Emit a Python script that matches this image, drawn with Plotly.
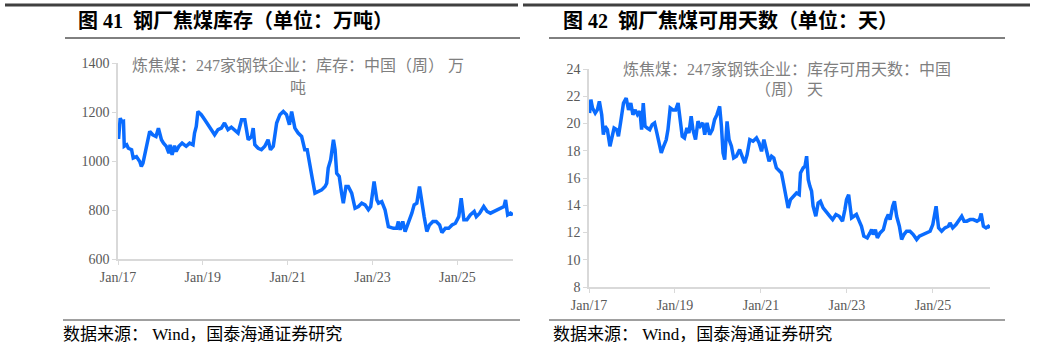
import plotly.graph_objects as go

# ---------------- Data: left chart (库存, 万吨) ----------------
inv_dates = [
    "2017-01-06","2017-01-20","2017-02-03","2017-02-17","2017-02-24","2017-03-17","2017-03-31","2017-04-28",
    "2017-05-12","2017-06-09","2017-07-07","2017-07-21","2017-08-04","2017-08-18","2017-09-08","2017-10-01",
    "2017-10-27","2017-11-24","2017-12-15","2018-01-10","2018-01-28","2018-02-21","2018-03-15","2018-03-25",
    "2018-04-12","2018-05-02","2018-05-16","2018-06-09","2018-07-07","2018-08-11","2018-09-10","2018-10-09",
    "2018-10-22","2018-11-06","2018-11-20","2018-12-19","2019-01-18","2019-02-16","2019-03-16","2019-04-13",
    "2019-05-12","2019-06-10","2019-07-07","2019-08-06","2019-09-04","2019-10-03","2019-11-01","2019-12-01",
    "2019-12-29","2020-01-27","2020-02-25","2020-03-10","2020-03-24","2020-04-22","2020-05-20","2020-06-18",
    "2020-07-16","2020-08-06","2020-08-30","2020-09-28","2020-10-26","2020-11-24","2020-12-22","2021-01-16",
    "2021-02-04","2021-03-04","2021-04-01","2021-05-01","2021-05-28","2021-06-18","2021-07-10","2021-08-03",
    "2021-08-24","2021-09-22","2021-10-21","2021-11-19","2021-12-03","2021-12-16","2022-01-06","2022-01-30",
    "2022-02-13","2022-02-27","2022-03-21","2022-04-10","2022-04-25","2022-05-18","2022-06-07","2022-07-06",
    "2022-08-04","2022-09-02","2022-10-01","2022-10-29","2022-11-27","2022-12-17","2023-01-15","2023-02-08",
    "2023-02-22","2023-03-22","2023-04-19","2023-05-18","2023-07-01","2023-07-28","2023-08-12","2023-08-27",
    "2023-09-19","2023-10-09","2023-11-07","2023-12-06","2023-12-26","2024-01-18","2024-02-10","2024-03-01",
    "2024-03-21","2024-04-13","2024-05-06","2024-06-04","2024-07-03","2024-08-01","2024-08-21","2024-09-19",
    "2024-10-18","2024-11-16","2024-12-15","2025-01-13","2025-02-03","2025-02-26","2025-03-24","2025-04-22",
    "2025-05-26","2025-06-13","2025-07-12","2025-08-16","2025-09-14","2025-10-13","2025-11-11","2025-12-10",
    "2026-01-08","2026-02-06","2026-02-20","2026-03-10","2026-04-03","2026-04-25",
]
inv_values = [
    1090,1175,1160,1162,1060,1066,1052,1046,
    1012,1018,998,978,991,1025,1060,1121,
    1107,1100,1134,1087,1073,1060,1032,1066,
    1025,1062,1039,1060,1073,1060,1073,1066,
    1114,1141,1202,1189,1168,1148,1128,1107,
    1128,1134,1155,1128,1138,1128,1114,1168,
    1168,1087,1100,1134,1066,1052,1046,1060,
    1087,1046,1060,1155,1189,1202,1189,1148,
    1202,1134,1114,1100,1046,1046,978,923,
    869,875,882,896,909,971,1005,1087,
    1046,950,937,869,828,896,896,869,
    807,814,828,821,801,814,916,841,
    828,834,801,732,725,725,753,719,
    753,712,746,787,821,828,896,828,
    773,712,739,753,753,739,708,725,
    725,739,746,773,848,760,760,780,
    794,773,787,814,794,787,794,801,
    807,814,841,780,787,780,
]

# ---------------- Data: right chart (可用天数, 天) ----------------
days_dates = [
    "2017-01-06","2017-01-17","2017-01-31","2017-02-23","2017-03-13","2017-03-30","2017-04-19","2017-05-03",
    "2017-05-17","2017-06-06","2017-06-28","2017-07-12","2017-08-02","2017-08-24","2017-09-08","2017-09-28",
    "2017-10-21","2017-11-13","2017-12-03","2017-12-22","2018-01-09","2018-01-29","2018-02-17","2018-03-10",
    "2018-03-24","2018-04-07","2018-04-22","2018-05-11","2018-06-01","2018-06-22","2018-07-12","2018-08-01",
    "2018-08-24","2018-09-07","2018-09-27","2018-10-19","2018-11-03","2018-11-22","2018-12-15","2019-01-07",
    "2019-01-28","2019-02-11","2019-03-04","2019-03-23","2019-04-13","2019-04-30","2019-05-19","2019-06-03",
    "2019-06-25","2019-07-16","2019-08-04","2019-08-27","2019-09-11","2019-10-01","2019-10-23","2019-11-15",
    "2019-12-04","2019-12-24","2020-01-16","2020-01-31","2020-02-14","2020-02-28","2020-03-19","2020-04-05",
    "2020-04-25","2020-05-14","2020-06-06","2020-07-04","2020-07-27","2020-08-16","2020-09-05","2020-09-28",
    "2020-10-26","2020-11-24","2020-12-16","2021-01-06","2021-01-26","2021-02-18","2021-03-11","2021-04-01",
    "2021-04-20","2021-05-12","2021-06-04","2021-06-24","2021-07-08","2021-08-01","2021-08-20","2021-09-09",
    "2021-10-01","2021-10-30","2021-11-22","2021-12-03","2021-12-26","2022-01-10","2022-01-24","2022-02-07",
    "2022-02-21","2022-03-07","2022-03-20","2022-04-12","2022-05-02","2022-05-21","2022-06-13","2022-07-12",
    "2022-08-10","2022-09-02","2022-09-30","2022-10-28","2022-11-25","2022-12-15","2022-12-29","2023-01-16",
    "2023-02-10","2023-03-01","2023-03-23","2023-04-16","2023-05-05","2023-05-25","2023-06-23","2023-07-16",
    "2023-07-30","2023-08-13","2023-08-31","2023-09-17","2023-10-10","2023-11-07","2023-11-29","2023-12-19",
    "2024-01-03","2024-01-25","2024-02-09","2024-02-28","2024-03-22","2024-04-10","2024-04-30","2024-05-22",
    "2024-06-20","2024-07-18","2024-08-16","2024-09-08","2024-10-06","2024-11-04","2024-12-08","2024-12-31",
    "2025-01-28","2025-02-18","2025-03-16","2025-04-13","2025-05-12","2025-05-26","2025-06-18","2025-07-16",
    "2025-08-13","2025-09-03","2025-09-23","2025-10-16","2025-11-13","2025-12-11","2026-01-10","2026-02-01",
    "2026-02-15","2026-03-06","2026-03-28","2026-04-17","2026-05-01",
]
days_values = [
    20.77,21.75,21.14,20.77,21.0,21.63,20.65,19.18,
    19.8,19.55,18.33,18.8,19.67,19.55,19.06,20.16,
    21.5,21.87,21.0,21.5,20.65,21.0,20.65,20.9,
    19.55,21.5,19.8,19.67,19.55,19.92,20.04,19.3,
    18.33,17.84,18.33,18.8,19.55,21.14,21.0,21.0,
    21.5,20.53,19.06,18.94,19.67,19.3,20.53,19.55,
    18.82,20.16,19.8,20.04,19.18,20.04,19.18,19.55,
    20.28,20.65,21.26,19.8,17.84,17.35,20.16,18.82,
    18.33,17.47,17.6,18.08,17.47,17.1,17.7,18.82,
    18.7,18.94,18.57,17.96,18.82,17.84,17.23,17.6,
    17.47,16.74,16.5,16.37,15.76,14.78,13.8,14.42,
    14.66,14.9,14.78,16.37,16.74,16.86,17.6,15.88,
    15.39,15.03,13.93,13.19,14.17,14.29,13.8,13.44,
    13.19,12.95,13.32,13.19,12.83,13.68,14.42,14.78,
    13.07,13.19,13.32,12.83,12.46,11.73,11.6,11.97,
    12.21,11.85,12.21,11.6,11.97,12.21,12.95,13.32,
    12.95,13.93,14.29,13.19,12.46,11.48,11.85,12.09,
    12.09,11.85,11.48,11.73,11.85,11.97,12.09,12.58,
    13.93,12.34,12.09,12.34,12.46,12.7,12.34,12.58,
    12.95,13.19,12.83,12.83,12.95,12.95,12.83,12.95,
    13.39,12.46,12.34,12.46,12.34,
]

left_title = "图 41  钢厂焦煤库存（单位：万吨）"
right_title = "图 42  钢厂焦煤可用天数（单位：天）"
left_series = ["炼焦煤：247家钢铁企业：库存：中国（周） 万", "吨"]
right_series = ["炼焦煤：247家钢铁企业：库存可用天数：中国", "（周） 天"]
source_text = "数据来源： Wind，国泰海通证券研究"

W, H = 1037, 350
LINE_COLOR = "#0a6cff"
FONT = "Liberation Serif, Noto Sans CJK SC, serif"

fig = go.Figure()
fig.add_trace(go.Scatter(x=inv_dates, y=inv_values, mode="lines",
                         line=dict(color=LINE_COLOR, width=3.5), xaxis="x", yaxis="y",
                         showlegend=False, hoverinfo="skip"))
fig.add_trace(go.Scatter(x=days_dates, y=days_values, mode="lines",
                         line=dict(color=LINE_COLOR, width=3.5), xaxis="x2", yaxis="y2",
                         showlegend=False, hoverinfo="skip"))

def px(x):
    return x / W

def py(y):
    return (H - y) / H

axis_common = dict(
    showgrid=False, zeroline=False, showline=True, linecolor="#d9d9d9", linewidth=1.5,
    ticks="outside", ticklen=4, tickcolor="#d9d9d9",
    tickfont=dict(family=FONT, size=14, color="#595959"),
)

fig.update_layout(
    width=W, height=H, margin=dict(l=0, r=0, t=0, b=0, autoexpand=False),
    paper_bgcolor="white", plot_bgcolor="white",
    xaxis=dict(domain=[px(118), px(513)], anchor="y", type="date",
               range=["2017-01-01", inv_dates[-1]], tick0="2017-01-01", dtick="M24",
               tickformat="%b/%y", **axis_common),
    yaxis=dict(domain=[py(259), py(63)], anchor="x", range=[600, 1400], dtick=200,
               **axis_common),
    xaxis2=dict(domain=[px(589), px(990)], anchor="y2", type="date",
                range=["2017-01-01", days_dates[-1]], tick0="2017-01-01", dtick="M24",
                tickformat="%b/%y", **axis_common),
    yaxis2=dict(domain=[py(287), py(69)], anchor="x2", range=[8, 24], dtick=2,
                **axis_common),
)

ann = []
# Figure titles
ann.append(dict(x=px(76), y=py(20), xref="paper", yref="paper", xanchor="left", yanchor="middle",
                text="<b>" + left_title + "</b>", showarrow=False,
                font=dict(family=FONT, size=20, color="#000000")))
ann.append(dict(x=px(561), y=py(20), xref="paper", yref="paper", xanchor="left", yanchor="middle",
                text="<b>" + right_title + "</b>", showarrow=False,
                font=dict(family=FONT, size=20, color="#000000")))
# Series titles inside charts
for txt, (cx, cy) in zip(left_series, [(298, 65), (298, 87)]):
    ann.append(dict(x=px(cx), y=py(cy), xref="paper", yref="paper", xanchor="center", yanchor="middle",
                    text=txt, showarrow=False, font=dict(family=FONT, size=16, color="#7f7f7f")))
for txt, (cx, cy) in zip(right_series, [(787, 69), (789, 90)]):
    ann.append(dict(x=px(cx), y=py(cy), xref="paper", yref="paper", xanchor="center", yanchor="middle",
                    text=txt, showarrow=False, font=dict(family=FONT, size=16, color="#7f7f7f")))
# Sources
ann.append(dict(x=px(61), y=py(334), xref="paper", yref="paper", xanchor="left", yanchor="middle",
                text=source_text, showarrow=False, font=dict(family=FONT, size=17, color="#000000")))
ann.append(dict(x=px(551), y=py(334), xref="paper", yref="paper", xanchor="left", yanchor="middle",
                text=source_text, showarrow=False, font=dict(family=FONT, size=17, color="#000000")))
fig.update_layout(annotations=ann)

shapes = []
def hline(x0, x1, y, w, c):
    shapes.append(dict(type="line", xref="paper", yref="paper", x0=px(x0), x1=px(x1),
                       y0=py(y), y1=py(y), line=dict(color=c, width=w)))

hline(5, 518, 5, 3, "#404040")
hline(523, 1030, 5, 3, "#404040")
hline(65, 520, 38, 1, "#000000")
hline(549, 1005, 38, 1, "#000000")
hline(63, 520, 320, 1, "#404040")
hline(549, 1005, 320, 1, "#404040")
fig.update_layout(shapes=shapes)

fig.write_html(
    "out.html",
    post_script="document.documentElement.style.margin='0';document.body.style.margin='0';"
                "document.body.style.padding='0';document.body.style.overflow='hidden';",
)
